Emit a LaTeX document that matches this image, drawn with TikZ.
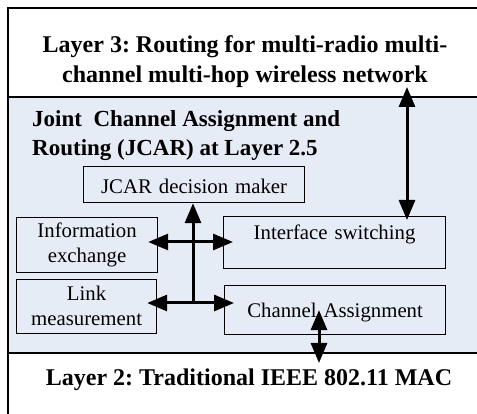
\documentclass[tikz,border=0pt]{standalone}
\usepackage{fontspec}
\setmainfont{Liberation Serif}
\usetikzlibrary{arrows.meta,calc}
\definecolor{bandblue}{RGB}{230,236,246}
\frenchspacing
\begin{document}
\begin{tikzpicture}[x=1pt,y=-1pt,
  frameline/.style={line width=1.8pt},
  box/.style={draw, line width=1.2pt, fill=bandblue, inner xsep=0pt, inner ysep=0pt,
    align=center, anchor=north west, font=\fontsize{20.8}{25}\selectfont},
  head/.style={font=\bfseries\fontsize{24}{30}\selectfont, inner sep=0pt},
  subhead/.style={font=\bfseries\fontsize{23}{29}\selectfont, inner sep=0pt},
  tipa/.tip={Triangle[width=16pt,length=20pt]},
  dbl/.style={line width=3pt, {tipa}-{tipa}},
  single/.style={line width=3pt, -{tipa}}
]
\useasboundingbox (0,0) rectangle (477,414);
\fill[bandblue] (8,97) rectangle (477,353);
\draw[frameline] (8,414) -- (8,8) -- (477,8);
\draw[frameline] (8,97) -- (477,97);
\draw[frameline] (8,353) -- (477,353);

\node[head, align=center] (l3) at (245,62) {Layer 3: Routing for multi-radio multi-\\channel multi-hop wireless network};
\node[subhead, align=left, anchor=west] (j25) at (32,136) {Joint\ \ Channel Assignment and\\Routing (JCAR) at Layer 2.5};
\node[head, anchor=base] (l2) at (249,385) {Layer 2: Traditional IEEE 802.11 MAC};

\node[box, text width=221pt, text height=27pt, text depth=9pt] (jcar) at (83,166) {JCAR decision maker};
\node[box, text width=141pt, text height=20pt, text depth=35pt] (info) at (16,217) {Information\\exchange};
\node[box, text width=222pt, text height=23pt, text depth=29pt] (iface) at (223,216) {Interface switching};
\node[box, text width=140pt, text height=21pt, text depth=33pt] (link) at (16,279) {Link\\measurement};
\node[box, text width=221pt, text height=32pt, text depth=17pt] (chan) at (224,285) {Channel Assignment};

\coordinate (j1) at (193,303);
\coordinate (h1) at (193,242);
\coordinate (l3tip) at (407,87);
\coordinate (l2tip) at (319,363);

\draw[single] (j1) -- (jcar.south -| j1);
\draw[dbl, shorten <=-10pt, shorten >=-10pt] (info.east |- h1) -- (iface.west |- h1);
\draw[dbl, shorten <=-10pt, shorten >=-10pt] (link.east |- j1) -- (chan.west |- j1);
\draw[dbl, shorten >=-4pt] (l3tip) -- (iface.north -| l3tip);
\draw[dbl] (l2tip) -- (chan.center -| l2tip);
\end{tikzpicture}
\end{document}
